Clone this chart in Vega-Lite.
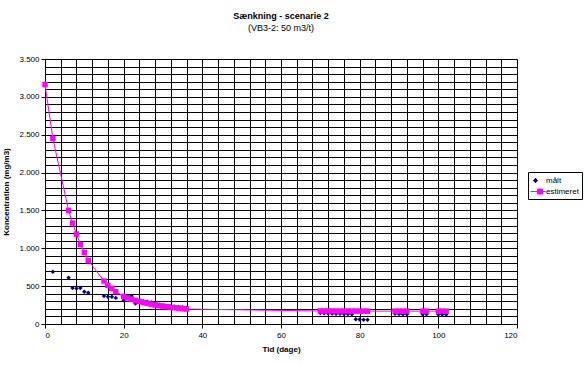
{
  "$schema": "https://vega.github.io/schema/vega-lite/v6.json",
  "width": 472,
  "height": 265,
  "autosize": {"type": "none"},
  "padding": {"left": 45, "top": 59, "right": 71, "bottom": 41},
  "background": "white",
  "config": {
    "font": "Liberation Sans",
    "view": {"stroke": null},
    "axis": {"labelFont": "Liberation Sans", "titleFont": "Liberation Sans", "labelFontSize": 8, "titleFontSize": 8, "titleFontWeight": "bold", "labelColor": "black", "titleColor": "black", "gridColor": "black", "gridWidth": 1, "gridOpacity": 1, "domainColor": "black", "tickColor": "black", "tickSize": 4}
  },
  "title": {"text": "Sænkning - scenarie 2", "subtitle": "(VB3-2: 50 m3/t)", "font": "Liberation Sans", "subtitleFont": "Liberation Sans", "fontSize": 9, "subtitleFontSize": 9, "fontWeight": "bold", "color": "black", "subtitleColor": "black", "anchor": "middle", "offset": 22, "subtitlePadding": 3},
  "data": {"values": [
    {"serie": "målt", "dag": 2, "konc": 690},
    {"serie": "målt", "dag": 6, "konc": 610},
    {"serie": "målt", "dag": 7, "konc": 475},
    {"serie": "målt", "dag": 8, "konc": 468},
    {"serie": "målt", "dag": 9, "konc": 475},
    {"serie": "målt", "dag": 10, "konc": 425},
    {"serie": "målt", "dag": 11, "konc": 412},
    {"serie": "målt", "dag": 15, "konc": 370},
    {"serie": "målt", "dag": 16, "konc": 360},
    {"serie": "målt", "dag": 17, "konc": 360},
    {"serie": "målt", "dag": 18, "konc": 345},
    {"serie": "målt", "dag": 20, "konc": 315},
    {"serie": "målt", "dag": 21, "konc": 365},
    {"serie": "målt", "dag": 22, "konc": 370},
    {"serie": "målt", "dag": 23, "konc": 272},
    {"serie": "målt", "dag": 24, "konc": 290},
    {"serie": "målt", "dag": 25, "konc": 300},
    {"serie": "målt", "dag": 26, "konc": 295},
    {"serie": "målt", "dag": 27, "konc": 285},
    {"serie": "målt", "dag": 28, "konc": 268},
    {"serie": "målt", "dag": 29, "konc": 258},
    {"serie": "målt", "dag": 30, "konc": 248},
    {"serie": "målt", "dag": 31, "konc": 240},
    {"serie": "målt", "dag": 32, "konc": 235},
    {"serie": "målt", "dag": 33, "konc": 230},
    {"serie": "målt", "dag": 34, "konc": 225},
    {"serie": "målt", "dag": 35, "konc": 220},
    {"serie": "målt", "dag": 36, "konc": 215},
    {"serie": "målt", "dag": 70, "konc": 145},
    {"serie": "målt", "dag": 71, "konc": 142},
    {"serie": "målt", "dag": 72, "konc": 140},
    {"serie": "målt", "dag": 73, "konc": 137},
    {"serie": "målt", "dag": 74, "konc": 135},
    {"serie": "målt", "dag": 75, "konc": 135},
    {"serie": "målt", "dag": 76, "konc": 133},
    {"serie": "målt", "dag": 77, "konc": 132},
    {"serie": "målt", "dag": 78, "konc": 128},
    {"serie": "målt", "dag": 79, "konc": 62},
    {"serie": "målt", "dag": 80, "konc": 58},
    {"serie": "målt", "dag": 81, "konc": 55},
    {"serie": "målt", "dag": 82, "konc": 55},
    {"serie": "målt", "dag": 89, "konc": 135},
    {"serie": "målt", "dag": 90, "konc": 133},
    {"serie": "målt", "dag": 91, "konc": 130},
    {"serie": "målt", "dag": 92, "konc": 130},
    {"serie": "målt", "dag": 96, "konc": 128},
    {"serie": "målt", "dag": 97, "konc": 128},
    {"serie": "målt", "dag": 100, "konc": 125},
    {"serie": "målt", "dag": 101, "konc": 125},
    {"serie": "målt", "dag": 102, "konc": 125},
    {"serie": "estimeret", "dag": 0, "konc": 3163},
    {"serie": "estimeret", "dag": 2, "konc": 2450},
    {"serie": "estimeret", "dag": 6, "konc": 1500},
    {"serie": "estimeret", "dag": 7, "konc": 1333},
    {"serie": "estimeret", "dag": 8, "konc": 1188},
    {"serie": "estimeret", "dag": 9, "konc": 1052},
    {"serie": "estimeret", "dag": 10, "konc": 946},
    {"serie": "estimeret", "dag": 11, "konc": 840},
    {"serie": "estimeret", "dag": 15, "konc": 568},
    {"serie": "estimeret", "dag": 16, "konc": 510},
    {"serie": "estimeret", "dag": 17, "konc": 471},
    {"serie": "estimeret", "dag": 18, "konc": 427},
    {"serie": "estimeret", "dag": 20, "konc": 365},
    {"serie": "estimeret", "dag": 21, "konc": 345},
    {"serie": "estimeret", "dag": 22, "konc": 328},
    {"serie": "estimeret", "dag": 23, "konc": 312},
    {"serie": "estimeret", "dag": 24, "konc": 298},
    {"serie": "estimeret", "dag": 25, "konc": 285},
    {"serie": "estimeret", "dag": 26, "konc": 273},
    {"serie": "estimeret", "dag": 27, "konc": 262},
    {"serie": "estimeret", "dag": 28, "konc": 252},
    {"serie": "estimeret", "dag": 29, "konc": 243},
    {"serie": "estimeret", "dag": 30, "konc": 235},
    {"serie": "estimeret", "dag": 31, "konc": 228},
    {"serie": "estimeret", "dag": 32, "konc": 221},
    {"serie": "estimeret", "dag": 33, "konc": 215},
    {"serie": "estimeret", "dag": 34, "konc": 209},
    {"serie": "estimeret", "dag": 35, "konc": 203},
    {"serie": "estimeret", "dag": 36, "konc": 198},
    {"serie": "estimeret", "dag": 70, "konc": 172},
    {"serie": "estimeret", "dag": 71, "konc": 172},
    {"serie": "estimeret", "dag": 72, "konc": 172},
    {"serie": "estimeret", "dag": 73, "konc": 171},
    {"serie": "estimeret", "dag": 74, "konc": 171},
    {"serie": "estimeret", "dag": 75, "konc": 171},
    {"serie": "estimeret", "dag": 76, "konc": 171},
    {"serie": "estimeret", "dag": 77, "konc": 171},
    {"serie": "estimeret", "dag": 78, "konc": 171},
    {"serie": "estimeret", "dag": 79, "konc": 170},
    {"serie": "estimeret", "dag": 80, "konc": 170},
    {"serie": "estimeret", "dag": 81, "konc": 170},
    {"serie": "estimeret", "dag": 82, "konc": 170},
    {"serie": "estimeret", "dag": 89, "konc": 170},
    {"serie": "estimeret", "dag": 90, "konc": 170},
    {"serie": "estimeret", "dag": 91, "konc": 170},
    {"serie": "estimeret", "dag": 92, "konc": 170},
    {"serie": "estimeret", "dag": 96, "konc": 170},
    {"serie": "estimeret", "dag": 97, "konc": 170},
    {"serie": "estimeret", "dag": 100, "konc": 170},
    {"serie": "estimeret", "dag": 101, "konc": 170},
    {"serie": "estimeret", "dag": 102, "konc": 170}
  ]},
  "encoding": {
    "x": {"field": "dag", "type": "quantitative", "scale": {"domain": [0, 120], "nice": false, "zero": true},
      "axis": {"title": "Tid (dage)", "values": [0,4,8,12,16,20,24,28,32,36,40,44,48,52,56,60,64,68,72,76,80,84,88,92,96,100,104,108,112,116,120],
        "labelExpr": "datum.value % 20 === 0 ? datum.label : ''", "labelOverlap": false, "labelPadding": 3, "titlePadding": 6,
        "tickOpacity": {"condition": {"test": "datum.value % 20 === 0", "value": 1}, "value": 0}}},
    "y": {"field": "konc", "type": "quantitative", "scale": {"domain": [0, 3500], "nice": false},
      "axis": {"title": "Koncentration (mg/m3)", "values": [0,100,200,300,400,500,600,700,800,900,1000,1100,1200,1300,1400,1500,1600,1700,1800,1900,2000,2100,2200,2300,2400,2500,2600,2700,2800,2900,3000,3100,3200,3300,3400,3500],
        "labelExpr": "datum.value % 500 === 0 ? replace(format(datum.value, ',.0f'), ',', '.') : ''", "labelOverlap": false, "labelPadding": 2, "titlePadding": 8,
        "tickOpacity": {"condition": {"test": "datum.value % 500 === 0", "value": 1}, "value": 0}}}
  },
  "layer": [
    {"transform": [{"filter": "datum.serie === 'estimeret'"}],
     "mark": {"type": "line", "color": "#FF00FF", "strokeWidth": 1, "clip": true}},
    {"transform": [{"filter": "datum.serie === 'målt'"}],
     "mark": {"type": "point", "shape": "diamond", "filled": true, "color": "#000080", "size": 20, "opacity": 1}},
    {"transform": [{"filter": "datum.serie === 'estimeret'"}],
     "mark": {"type": "point", "shape": "square", "filled": true, "color": "#FF00FF", "size": 30, "opacity": 1}},
    {"mark": {"type": "point", "filled": true, "opacity": 0, "size": 100},
     "encoding": {
       "color": {"field": "serie", "type": "nominal", "scale": {"domain": ["målt", "estimeret"], "range": ["#000080", "#FF00FF"]},
         "legend": {"title": null, "orient": "none", "legendX": 483, "legendY": 113, "strokeColor": "black", "fillColor": "white", "padding": 3, "labelFontSize": 8, "labelFont": "Liberation Sans", "labelColor": "black", "symbolOpacity": 1, "symbolStrokeWidth": 1, "symbolSize": 100, "rowPadding": 1, "labelOffset": 4,
           "encode": {"symbols": {"update": {"stroke": {"scale": "color", "field": "value"}}}}}},
       "shape": {"field": "serie", "type": "nominal", "scale": {"domain": ["målt", "estimeret"], "range": ["M-0.2,-0.45L0.2,0L-0.2,0.45L-0.6,0Z", "M-1.2,0H1.8M0.2,-0.5H1.2V0.5H0.2Z"]},
         "legend": {"title": null, "orient": "none", "legendX": 483, "legendY": 113, "strokeColor": "black", "fillColor": "white", "padding": 3, "labelFontSize": 8, "labelFont": "Liberation Sans", "labelColor": "black", "symbolOpacity": 1, "symbolStrokeWidth": 1, "symbolSize": 100, "rowPadding": 1, "labelOffset": 4,
           "encode": {"symbols": {"update": {"stroke": {"scale": "color", "field": "value"}}}}}}
     }}
  ]
}
